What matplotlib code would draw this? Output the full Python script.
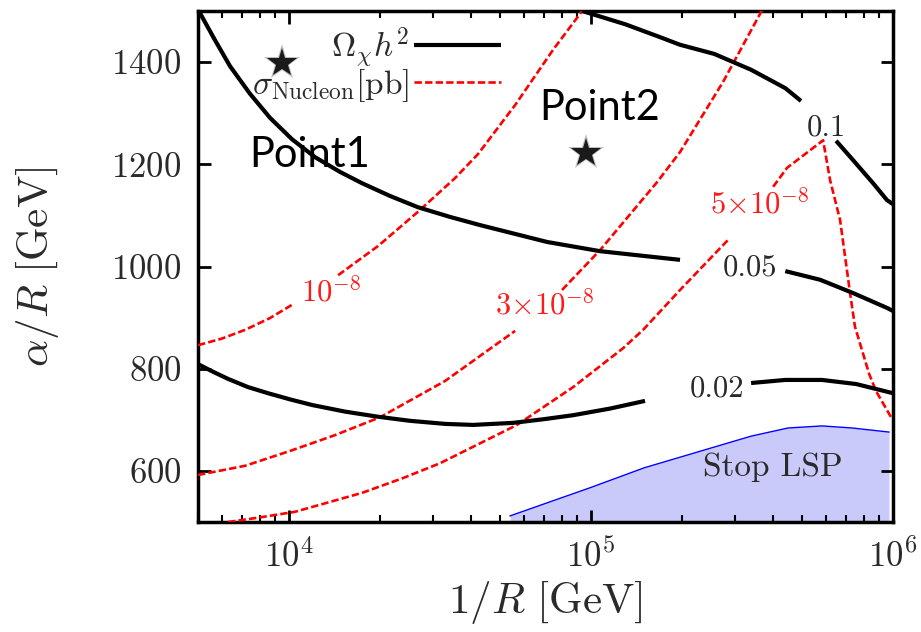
import numpy as np
import matplotlib
matplotlib.use("Agg")
import matplotlib.pyplot as plt

# ---- relic density contours (Omega_chi h^2), each split where its label sits ----
omega_01_a_x = [93500, 130000, 169000, 197000, 256000, 339000, 440000, 496000]
omega_01_a_y = [1500, 1474, 1449, 1434, 1416, 1385, 1349, 1324]
omega_01_b_x = [648000, 738000, 859000, 955000, 1000000]
omega_01_b_y = [1246, 1208, 1163, 1130, 1122]

omega_005_a_x = [5000, 5691, 6383, 7432, 8656, 10240, 12200, 14770, 17460, 21620,
                 26740, 34160, 42950, 71580, 107150, 197200]
omega_005_a_y = [1503, 1443, 1392, 1338, 1291, 1249, 1214, 1185, 1163, 1138,
                 1116, 1097, 1081, 1048, 1030, 1013]
omega_005_b_x = [440000, 574000, 738000, 955000, 1000000]
omega_005_b_y = [991, 974, 948, 919, 913]

omega_002_a_x = [5000, 5608, 6290, 7320, 8530, 10080, 11920, 15340, 19720, 25180,
                 32890, 40700, 55200, 69400, 87300, 115700, 151000]
omega_002_a_y = [809, 794, 780, 764, 752, 740, 729, 716, 706, 698,
                 692, 690, 694, 701, 709, 722, 737]
omega_002_b_x = [339000, 440000, 582000, 755000, 970000, 1000000]
omega_002_b_y = [772, 778, 778, 770, 754, 752]

# ---- nucleon cross-section contours [pb] ----
sigma_1_a_x = [5000, 6003, 7160, 8650, 10240]
sigma_1_a_y = [846, 859, 876, 899, 925]
sigma_1_b_x = [14550, 19720, 26740, 35480, 42270, 56100, 74900, 93500]
sigma_1_b_y = [983, 1040, 1107, 1173, 1220, 1316, 1424, 1500]

sigma_3_a_x = [5000, 7160, 10080, 14210, 20030, 32890, 46340, 56100]
sigma_3_a_y = [592, 610, 639, 670, 705, 776, 839, 874]
sigma_3_b_x = [80200, 107150, 165500, 197200, 273600, 368800]
sigma_3_b_y = [954, 1032, 1165, 1224, 1361, 1502]

sigma_5_a_x = [6290, 8020, 10480, 17460, 23870, 31650, 56900, 87300, 127700, 148800, 197200, 284300]
sigma_5_a_y = [500, 509, 520, 557, 586, 615, 690, 764, 840, 876, 954, 1052]
sigma_5_b_x = [401000, 445800, 587000, 619000, 668000, 720800, 748500, 833400, 879000, 985600]
sigma_5_b_y = [1156, 1193, 1247, 1169, 1091, 948, 882, 790, 756, 705]

# ---- stop LSP excluded region ----
stop_x = [54000, 99300, 150000, 339000, 449500, 582000, 732000, 970000]
stop_y = [512, 567, 606, 668, 684, 688, 684, 676]

# ---- contour labels ----
omega_labels = ["0.1", "0.05", "0.02"]
omega_label_x = [600000, 336500, 261700]
omega_label_y = [1271, 997, 760]
sigma_labels = [r"$10^{-8}$", r"$3{\times}10^{-8}$", r"$5{\times}10^{-8}$"]
sigma_label_x = [13780, 70500, 363000]
sigma_label_y = [950, 925, 1122]

# ---- benchmark points ----
point_names = ["Point1", "Point2"]
point_x = [9500, 96000]
point_y = [1398, 1222]
point_text_x = [11740, 107200]
point_text_y = [1218, 1310]

y_ticks = [600, 800, 1000, 1200, 1400]

plt.rcParams["font.family"] = "cmr10"
plt.rcParams["mathtext.fontset"] = "cm"
plt.rcParams["axes.formatter.use_mathtext"] = True
plt.rcParams["axes.unicode_minus"] = False

TXT = "#2a2a2a"

fig = plt.figure(figsize=(9.21, 6.32), dpi=100)
ax = fig.add_axes([198 / 921, 1 - 522 / 632, 695 / 921, 511 / 632])

# Stop LSP region
ax.fill_between(stop_x, stop_y, 500, color="#c9c9fa", lw=0, zorder=1)
ax.plot(stop_x, stop_y, color="#0000ff", lw=1.0, zorder=2)
ax.text(401000, 607, "Stop LSP", fontsize=24, color=TXT, ha="center", va="center", zorder=3)

red_kw = dict(color="#ff0000", lw=1.9, linestyle=(0, (2.8, 1.2)), zorder=4)
blk_kw = dict(color="black", lw=3.0, solid_capstyle="butt", solid_joinstyle="round", zorder=5)

h_sig, = ax.plot(sigma_1_a_x, sigma_1_a_y, **red_kw)
ax.plot(sigma_1_b_x, sigma_1_b_y, **red_kw)
ax.plot(sigma_3_a_x, sigma_3_a_y, **red_kw)
ax.plot(sigma_3_b_x, sigma_3_b_y, **red_kw)
ax.plot(sigma_5_a_x, sigma_5_a_y, **red_kw)
ax.plot(sigma_5_b_x, sigma_5_b_y, **red_kw)

h_om, = ax.plot(omega_01_a_x, omega_01_a_y, **blk_kw)
ax.plot(omega_01_b_x, omega_01_b_y, **blk_kw)
ax.plot(omega_005_a_x, omega_005_a_y, **blk_kw)
ax.plot(omega_005_b_x, omega_005_b_y, **blk_kw)
ax.plot(omega_002_a_x, omega_002_a_y, **blk_kw)
ax.plot(omega_002_b_x, omega_002_b_y, **blk_kw)

for s, x, y in zip(omega_labels, omega_label_x, omega_label_y):
    ax.text(x, y, s, fontsize=22, color=TXT, ha="center", va="center", zorder=6)
for s, x, y in zip(sigma_labels, sigma_label_x, sigma_label_y):
    ax.text(x, y, s, fontsize=22, color="#ff1a1a", ha="center", va="center", zorder=6)

# benchmark stars (soft edge) and names
ax.plot(point_x, point_y, linestyle="none", marker="*", markersize=27,
        color="#444444", alpha=0.35, markeredgewidth=0, zorder=7)
ax.plot(point_x, point_y, linestyle="none", marker="*", markersize=22,
        color="#1a1a1a", markeredgewidth=0, zorder=8)
for s, x, y in zip(point_names, point_text_x, point_text_y):
    ax.text(x, y, s, fontsize=30, family="Lato", color="black",
            ha="center", va="center", zorder=8)

ax.set_xscale("log")
ax.set_xlim(5000, 1e6)
ax.set_ylim(500, 1500)
ax.set_yticks(y_ticks)
ax.minorticks_on()
ax.yaxis.set_minor_locator(matplotlib.ticker.NullLocator())

ax.tick_params(which="both", direction="in", top=True, right=True,
               labelsize=25, labelcolor=TXT, pad=12)
ax.tick_params(which="major", length=9, width=2)
ax.tick_params(which="minor", length=5, width=1.5)
for sp in ax.spines.values():
    sp.set_linewidth(2.5)

ax.set_xlabel(r"$1/R\ [\mathrm{GeV}]$", fontsize=31, color=TXT, labelpad=4)
ax.set_ylabel(r"$\alpha/R\ [\mathrm{GeV}]$", fontsize=31, color=TXT, labelpad=36)

leg = ax.legend([h_om, h_sig], [r"$\Omega_\chi h^2$", r"$\sigma_{\rm Nucleon}[{\rm pb}]$"],
                loc="upper right", bbox_to_anchor=(0.455, 0.997), frameon=False,
                markerfirst=False, fontsize=24, handlelength=2.6, handletextpad=0.15,
                labelspacing=-0.1, borderaxespad=0.0)
for t in leg.get_texts():
    t.set_color(TXT)

fig.savefig("out.png", dpi=100)
